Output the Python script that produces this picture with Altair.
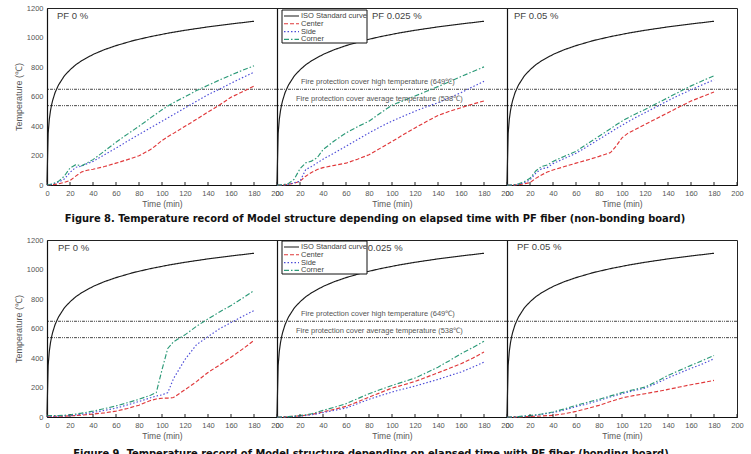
import altair as alt
import pandas as pd

FONT = "Liberation Sans"
CAPTION_FONT = "'DejaVu Sans Condensed', 'Liberation Sans', sans-serif"

# Sampling times (min) for the thermocouple readings
TIME = [0, 5, 10, 15, 20, 25, 30, 35, 40, 50, 60, 70, 80, 90, 95, 100, 105, 110,
        120, 130, 140, 150, 160, 170, 180]

# ISO 834 standard fire curve
ISO_TIME = [0, 1, 2, 3, 4, 5, 7, 10, 15, 20, 25, 30, 40, 50, 60, 75, 90, 105,
            120, 140, 160, 180]
ISO_TEMP = [20, 349, 445, 502, 544, 576, 626, 678, 739, 781, 815, 842, 885, 918,
            945, 979, 1006, 1029, 1049, 1072, 1092, 1110]

# Non-bonding board
NB_0_CENTER = [0, 2, 8, 18, 30, 60, 88, 100, 107, 125, 148, 172, 198, 240, 270, 302,
               327, 350, 398, 445, 495, 542, 595, 632, 670]
NB_0_SIDE = [0, 5, 20, 40, 85, 120, 128, 145, 160, 205, 250, 297, 343, 388, 410, 432,
             455, 477, 522, 568, 612, 650, 690, 728, 765]
NB_0_CORNER = [0, 8, 25, 60, 115, 138, 130, 150, 172, 230, 290, 345, 398, 455, 482,
               510, 535, 558, 598, 640, 676, 712, 745, 778, 808]

NB_025_CENTER = [0, 0, 5, 12, 25, 60, 85, 105, 118, 133, 148, 175, 205, 250, 272, 296,
                 318, 342, 387, 430, 471, 500, 524, 548, 570]
NB_025_SIDE = [0, 0, 5, 15, 25, 105, 125, 150, 175, 218, 262, 308, 353, 395, 414, 433,
               450, 467, 500, 530, 558, 592, 626, 665, 703]
NB_025_CORNER = [0, 2, 10, 40, 110, 150, 162, 185, 240, 300, 353, 395, 433, 488, 515,
                 540, 557, 572, 603, 635, 667, 700, 735, 768, 801]

NB_05_CENTER = [0, 0, 2, 8, 16, 45, 68, 88, 102, 125, 148, 170, 194, 220, 265, 320,
                350, 370, 410, 450, 490, 530, 569, 600, 631]
NB_05_SIDE = [0, 0, 5, 15, 35, 80, 110, 118, 145, 180, 215, 262, 310, 358, 382, 405,
              428, 450, 490, 530, 572, 610, 645, 680, 713]
NB_05_CORNER = [0, 0, 8, 22, 45, 95, 125, 135, 160, 195, 228, 280, 330, 382, 408, 433,
                455, 475, 512, 552, 592, 632, 672, 707, 740]

# Bonding board
B_0_CENTER = [5, 5, 5, 6, 8, 10, 13, 16, 20, 28, 40, 58, 80, 112, 122, 127, 128, 132,
              185, 240, 302, 352, 405, 460, 519]
B_0_SIDE = [5, 5, 6, 8, 10, 14, 18, 24, 30, 45, 60, 82, 105, 130, 142, 150, 165, 260,
            390, 490, 545, 598, 640, 682, 722]
B_0_CORNER = [10, 10, 10, 12, 15, 20, 26, 33, 40, 57, 75, 97, 120, 148, 165, 320, 465,
              510, 557, 615, 665, 712, 756, 805, 857]

B_025_CENTER = [0, 0, 2, 5, 8, 12, 18, 25, 35, 52, 72, 102, 135, 165, 181, 196, 207,
                218, 241, 270, 300, 330, 361, 398, 440]
B_025_SIDE = [0, 0, 2, 4, 6, 10, 15, 22, 30, 45, 61, 90, 120, 145, 157, 169, 180, 190,
              210, 232, 255, 280, 305, 337, 372]
B_025_CORNER = [0, 0, 3, 6, 10, 15, 22, 33, 45, 66, 90, 124, 158, 186, 200, 214, 226,
                239, 264, 300, 338, 382, 429, 470, 514]

B_05_CENTER = [0, 0, 0, 2, 4, 5, 7, 9, 11, 22, 38, 58, 79, 105, 117, 129, 137, 145,
               158, 172, 187, 203, 219, 233, 248]
B_05_SIDE = [0, 0, 2, 5, 8, 12, 18, 24, 30, 48, 70, 90, 112, 136, 147, 158, 168, 178,
             196, 228, 265, 298, 330, 360, 395]
B_05_CORNER = [0, 0, 3, 7, 10, 15, 20, 27, 34, 55, 79, 100, 120, 143, 154, 165, 175,
               185, 203, 240, 282, 316, 350, 383, 417]

SERIES = ["ISO Standard curve", "Center", "Side", "Corner"]
COLORS = ["#1a1a1a", "#e0383a", "#4c4cd8", "#2c9a78"]
DASHES = [[1, 0], [4, 2], [1.5, 2], [5, 2, 1.5, 2]]

THRESHOLDS = [649, 538]
THRESHOLD_LABELS = ["Fire protection cover high temperature (649\u2103)",
                    "Fire protection cover average temperature (538\u2103)"]
PANEL_LABELS = ["PF 0 %", "PF 0.025 %", "PF 0.05 %"]
CAPTIONS = [
    "Figure 8. Temperature record of Model structure depending on elapsed time with PF fiber (non-bonding board)",
    "Figure 9. Temperature record of Model structure depending on elapsed time with PF fiber (bonding board)",
]
X_TICKS = [0, 20, 40, 60, 80, 100, 120, 140, 160, 180, 200]
Y_TICKS = [0, 200, 400, 600, 800, 1000, 1200]

W, H = 230, 177


def x_enc():
    return alt.X("time:Q", scale=alt.Scale(domain=[0, 200], nice=False),
                 axis=alt.Axis(values=X_TICKS, title="Time (min)", labelPadding=4,
                               titlePadding=3, titleFontSize=8.5, format="d"))


def y_enc(first):
    if first:
        axis = alt.Axis(values=Y_TICKS, title="Temperature (\u2103)", labelPadding=4,
                        titlePadding=3, titleFontSize=9, format="d")
    else:
        axis = alt.Axis(values=Y_TICKS, labels=False, title="")
    return alt.Y("temp:Q", scale=alt.Scale(domain=[0, 1200], nice=False), axis=axis)


def one_row(name, value):
    return pd.DataFrame({name: [value]})


def panel(label, center, side, corner, first, label_pos,
          legend_pos=None, thresholds_text=False, caption=None, caption_pos=None):
    df = pd.concat([
        pd.DataFrame({"time": ISO_TIME, "temp": ISO_TEMP, "series": SERIES[0]}),
        pd.DataFrame({"time": TIME, "temp": center, "series": SERIES[1]}),
        pd.DataFrame({"time": TIME, "temp": side, "series": SERIES[2]}),
        pd.DataFrame({"time": TIME, "temp": corner, "series": SERIES[3]}),
    ], ignore_index=True)

    lines = alt.Chart(df).mark_line(strokeWidth=1.15).encode(
        x=x_enc(), y=y_enc(first),
        color=alt.Color("series:N", scale=alt.Scale(domain=SERIES, range=COLORS), legend=None),
        strokeDash=alt.StrokeDash("series:N", scale=alt.Scale(domain=SERIES, range=DASHES),
                                  legend=None),
        detail="series:N",
    )

    limits = alt.Chart(pd.DataFrame({"temp": THRESHOLDS})).mark_rule(
        color="#333333", strokeWidth=0.9, strokeDash=[3, 1, 1, 1, 1, 1]
    ).encode(y=y_enc(first))

    ticks = alt.Chart(pd.DataFrame({"time": X_TICKS})).mark_rule(
        color="#222222", strokeWidth=1
    ).encode(x=x_enc(), y=alt.value(H), y2=alt.value(H - 3))

    pf = alt.Chart(one_row("label", label)).mark_text(
        align="left", baseline="middle", font=FONT, fontSize=9.5, color="#444444"
    ).encode(x=alt.value(label_pos[0]), y=alt.value(label_pos[1]), text="label:N")

    layers = [limits, lines, ticks, pf]

    if thresholds_text:
        for val, txt, xoff in zip(THRESHOLDS, THRESHOLD_LABELS, [24, 19]):
            layers.append(
                alt.Chart(pd.DataFrame({"temp": [val], "label": [txt]})).mark_text(
                    align="left", baseline="middle", dy=-7, font=FONT, fontSize=7.5,
                    color="#555555"
                ).encode(x=alt.value(xoff), y=y_enc(first), text="label:N")
            )

    if legend_pos is not None:
        lx, ly = legend_pos
        layers.append(
            alt.Chart(one_row("k", 0)).mark_rect(
                fill="white", stroke="#111111", strokeWidth=1
            ).encode(x=alt.value(lx), x2=alt.value(lx + 85),
                     y=alt.value(ly), y2=alt.value(ly + 33))
        )
        for i, (name, color, dash) in enumerate(zip(SERIES, COLORS, DASHES)):
            yy = ly + 6 + 7.8 * i
            row = one_row("label", name)
            layers.append(
                alt.Chart(row).mark_rule(color=color, strokeDash=dash, strokeWidth=1.1)
                .encode(x=alt.value(lx + 2), x2=alt.value(lx + 17), y=alt.value(yy))
            )
            layers.append(
                alt.Chart(row).mark_text(align="left", baseline="middle", font=FONT,
                                         fontSize=7.5, color="#444444")
                .encode(x=alt.value(lx + 19), y=alt.value(yy), text="label:N")
            )

    if caption is not None:
        layers.append(
            alt.Chart(one_row("label", caption)).mark_text(
                align="center", baseline="middle", font=CAPTION_FONT,
                fontWeight="bold", fontSize=11, color="#111111"
            ).encode(x=alt.value(caption_pos[0]), y=alt.value(caption_pos[1]), text="label:N")
        )

    return alt.layer(*layers).properties(width=W, height=H)


panels = [
    # non-bonding board
    panel(PANEL_LABELS[0], NB_0_CENTER, NB_0_SIDE, NB_0_CORNER, True, (10, 8)),
    panel(PANEL_LABELS[1], NB_025_CENTER, NB_025_SIDE, NB_025_CORNER, False, (95, 8),
          legend_pos=(5, 2), thresholds_text=True, caption=CAPTIONS[0],
          caption_pos=(98, H + 34)),
    panel(PANEL_LABELS[2], NB_05_CENTER, NB_05_SIDE, NB_05_CORNER, False, (7, 8)),
    # bonding board
    panel(PANEL_LABELS[0], B_0_CENTER, B_0_SIDE, B_0_CORNER, True, (11, 8)),
    panel(PANEL_LABELS[1], B_025_CENTER, B_025_SIDE, B_025_CORNER, False, (76, 8),
          legend_pos=(5, 1), thresholds_text=True, caption=CAPTIONS[1],
          caption_pos=(94, H + 37)),
    panel(PANEL_LABELS[2], B_05_CENTER, B_05_SIDE, B_05_CORNER, False, (10, 7)),
]

chart = alt.concat(
    *panels, columns=3, spacing={"row": 55, "column": 0}, bounds="flush"
).properties(
    padding={"left": 13, "top": 3, "right": 4, "bottom": 0},
    background="white",
).configure_view(
    stroke="#222222", strokeWidth=1
).configure_axis(
    domainColor="#111111", domainWidth=1.2, labelColor="#555555", labelFont=FONT,
    labelFontSize=7.5, titleFont=FONT, titleColor="#555555", titleFontWeight="normal",
    tickSize=0, grid=False, labelFlush=False, labelOverlap=False,
)

chart.save("out.html", embed_options={"renderer": "svg", "actions": False})
